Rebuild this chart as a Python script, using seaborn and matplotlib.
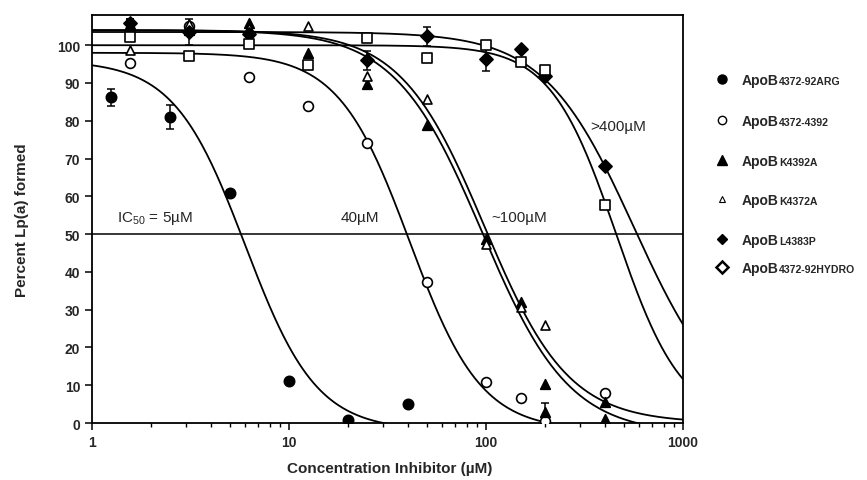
import numpy as np
import pandas as pd
import seaborn as sns
import matplotlib.pyplot as plt
from matplotlib.lines import Line2D

# series names (legend order) and suffixes drawn smaller after "ApoB"
series = ["4372-92ARG", "4372-4392", "K4392A", "K4372A", "L4383P", "4372-92HYDRO"]

arg_x = [1.25, 2.5, 5, 10, 20, 40]
arg_y = [86.2, 81.0, 60.8, 11.1, 0.7, 5.0]
arg_err = [2.2, 3.3, 1.0, 0, 0, 0]

wt_x = [1.5625, 3.125, 6.25, 12.5, 25, 50, 100, 150, 200, 400]
wt_y = [95.2, 105.0, 91.5, 83.9, 74.1, 37.3, 10.8, 6.5, 0.5, 8.0]

k4392_x = [1.5625, 3.125, 6.25, 12.5, 25, 50, 100, 150, 200, 200, 400, 400]
k4392_y = [105.5, 104.0, 106.0, 98.0, 89.7, 79.0, 48.7, 32.0, 10.3, 2.8, 5.5, 1.0]
k4392_err = [1.5, 0, 0, 0, 0, 0, 0, 0, 0, 2.5, 0, 0]

k4372_x = [1.5625, 3.125, 6.25, 12.5, 25, 50, 100, 150, 200]
k4372_y = [98.7, 105.5, 104.5, 105.0, 91.8, 85.7, 47.4, 30.7, 26.0]

l4383_x = [1.5625, 3.125, 6.25, 25, 50, 100, 150, 200, 400]
l4383_y = [106.0, 103.5, 103.0, 96.0, 102.4, 96.3, 99.0, 91.8, 68.0]
l4383_err = [1.0, 3.5, 1.5, 2.5, 2.5, 3.0, 0, 0, 0]

hydro_x = [1.5625, 3.125, 6.25, 12.5, 25, 50, 100, 150, 200, 400]
hydro_y = [102.2, 97.2, 100.3, 94.7, 102.0, 96.5, 100.0, 95.5, 93.4, 57.7]

# fitted dose-response curves (top, bottom, midpoint, hill)
curve_top = [96, 98, 104, 104, 103.5, 100]
curve_bottom = [-2, -2, -3, 0, 0, 0]
curve_mid = [6.0, 41, 95.6, 98.3, 564, 458]
curve_hill = [2.4, 2.4, 1.96, 2.04, 1.9, 2.6]

# in-plot labels
ann_text = ["IC$_{50}$ = 5µM", "40µM", "~100µM", ">400µM"]
ann_x = [1.34, 18.2, 107, 337]
ann_y = [54.5, 54.5, 54.5, 78.6]

sns.set_theme(style="ticks")
plt.rcParams["font.family"] = ["Liberation Sans", "DejaVu Sans"]
plt.rcParams["mathtext.fontset"] = "custom"
plt.rcParams["mathtext.rm"] = "Liberation Sans"

fig = plt.figure(figsize=(8.67, 4.81), dpi=100)
ax = fig.add_axes([92 / 867, 1 - 424 / 481, 591 / 867, 408 / 481])
ax.set_xscale("log")

#curves
conc = np.logspace(0, 3, 500)
rows = []
for name, t, b, c, h in zip(series, curve_top, curve_bottom, curve_mid, curve_hill):
    pct = b + (t - b) / (1 + (conc / c) ** h)
    rows.append(pd.DataFrame({"conc": conc, "pct": pct, "series": name}))
curves = pd.concat(rows)
sns.lineplot(data=curves, x="conc", y="pct", units="series", estimator=None,
             color="black", lw=1.3, ax=ax, zorder=2)

ax.axhline(50, color="black", lw=1.1, zorder=1)

#points
pts = [
    (arg_x, arg_y, arg_err, "o", "black", 55),
    (wt_x, wt_y, None, "o", "white", 50),
    (k4392_x, k4392_y, k4392_err, "^", "black", 48),
    (k4372_x, k4372_y, None, "^", "white", 42),
    (l4383_x, l4383_y, l4383_err, "D", "black", 45),
    (hydro_x, hydro_y, None, "s", "white", 55),
]
for x, y, err, m, fc, s in pts:
    if err is not None:
        ex = [a for a, e in zip(x, err) if e > 0]
        ey = [a for a, e in zip(y, err) if e > 0]
        ee = [e for e in err if e > 0]
        ax.errorbar(ex, ey, yerr=ee, fmt="none", ecolor="black",
                    elinewidth=1.1, capsize=3, capthick=1.1, zorder=3)
    sns.scatterplot(x=x, y=y, marker=m, s=s, color=fc, edgecolor="black",
                    linewidth=1.2, ax=ax, zorder=4, legend=False)

for t, x, y in zip(ann_text, ann_x, ann_y):
    ax.text(x, y, t, fontsize=11, va="center", ha="left")

ax.set_xlim(1, 1000)
ax.set_ylim(0, 108)
ax.set_yticks(range(0, 101, 10))
ax.set_xticks([1, 10, 100, 1000])
ax.set_xticklabels(["1", "10", "100", "1000"])
for lab in ax.get_xticklabels() + ax.get_yticklabels():
    lab.set_fontweight("bold")
    lab.set_fontsize(10)
ax.tick_params(axis="both", which="major", length=5, width=1.1, color="black")
ax.tick_params(axis="x", which="minor", length=3, width=1.0, color="black")
for sp in ax.spines.values():
    sp.set_visible(True)
    sp.set_linewidth(1.3)
    sp.set_color("black")

ax.set_xlabel("Concentration Inhibitor (µM)", fontsize=11, fontweight="bold")
ax.set_ylabel("Percent Lp(a) formed", fontsize=11, fontweight="bold")
ax.xaxis.set_label_coords(0.503, -0.092)
ax.yaxis.set_label_coords(-0.107, 0.5)

#legend drawn by hand: big "ApoB" + small suffix
leg_y = [80, 121, 161, 200, 240, 268]
leg_style = [("o", "black", 6.5, 1.0), ("o", "white", 6.0, 1.0), ("^", "black", 6.5, 1.0),
             ("^", "white", 5.0, 0.8), ("D", "black", 5.0, 1.0), ("D", "white", 6.5, 1.8)]
renderer = fig.canvas.get_renderer()
for name, yp, (m, fc, ms, mew) in zip(series, leg_y, leg_style):
    yf = 1 - yp / 481
    fig.add_artist(Line2D([722 / 867], [yf], marker=m, ms=ms, mfc=fc, mec="black",
                          mew=mew, ls="none", transform=fig.transFigure))
    t = fig.text(742 / 867, yf - 5 / 481, "ApoB", fontsize=10, fontweight="bold",
                 va="baseline", ha="left")
    w = t.get_window_extent(renderer=renderer).width
    fig.text((742 + w) / 867, yf - 5 / 481, name, fontsize=7.6, fontweight="bold",
             va="baseline", ha="left")

fig.savefig("out.png", dpi=100)
